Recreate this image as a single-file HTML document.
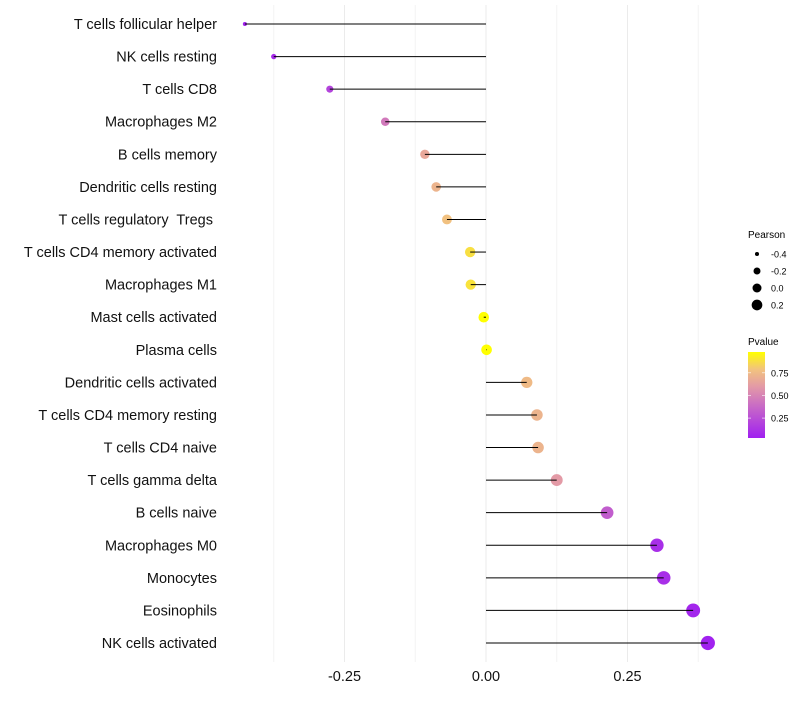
<!DOCTYPE html>
<html><head><meta charset="utf-8"><style>
body{margin:0;background:#fff;font-family:"Liberation Sans",sans-serif;}
text{white-space:pre;}
</style></head><body>
<svg id="c" width="800" height="700" xmlns="http://www.w3.org/2000/svg">
<defs><linearGradient id="pg" x1="0" y1="1" x2="0" y2="0">
<stop offset="0" stop-color="#A020F0"/><stop offset="0.35" stop-color="#C666C8"/><stop offset="0.6" stop-color="#E39AA6"/><stop offset="0.8" stop-color="#F2C37E"/><stop offset="1" stop-color="#FFFF00"/></linearGradient></defs>
<g id="grid"></g><g id="marks"></g><g id="labels"></g><g id="xaxis"></g>
<g font-size="10" fill="#000">
<text x="748" y="238">Pearson</text><g id="sizeleg"></g>
<text x="748" y="345">Pvalue</text>
<rect x="748" y="352" width="17" height="86" fill="url(#pg)"/>
<g id="colleg"></g>
</g>
</svg>
<script>
const categories=["T cells follicular helper","NK cells resting","T cells CD8","Macrophages M2","B cells memory","Dendritic cells resting","T cells regulatory  Tregs ","T cells CD4 memory activated","Macrophages M1","Mast cells activated","Plasma cells","Dendritic cells activated","T cells CD4 memory resting","T cells CD4 naive","T cells gamma delta","B cells naive","Macrophages M0","Monocytes","Eosinophils","NK cells activated"];
const pearson=[-0.426,-0.375,-0.276,-0.178,-0.108,-0.088,-0.069,-0.028,-0.027,-0.004,0.001,0.072,0.090,0.092,0.125,0.214,0.302,0.314,0.366,0.392];
const pvalue=[0.05,0.08,0.2,0.45,0.66,0.72,0.78,0.88,0.89,0.98,0.99,0.75,0.72,0.72,0.6,0.32,0.1,0.1,0.06,0.04];
const xTicks=[-0.25,0,0.25];
const xTickLabels=["-0.25","0.00","0.25"];
const sizeLegend=[-0.4,-0.2,0.0,0.2];
const colTicks=[0.25,0.5,0.75];
const NS="http://www.w3.org/2000/svg";
const xs=v=>486+v*566;
const ys=i=>24+i*(643-24)/(categories.length-1);
const rs=v=>Math.sqrt(Math.max(3,4+(v+0.43)/0.82*46));
const ps=p=>438-(p-0.03)/(0.95)*86;
const stops=[[0,[160,32,240]],[0.35,[198,102,200]],[0.6,[227,154,166]],[0.8,[242,195,126]],[1,[255,255,0]]];
function col(p){let t=Math.min(1,Math.max(0,(p-0.03)/0.95));for(let i=1;i<stops.length;i++){if(t<=stops[i][0]){const a=stops[i-1],b=stops[i],f=(t-a[0])/(b[0]-a[0]);return "rgb("+a[1].map((c,k)=>Math.round(c+(b[1][k]-c)*f)).join(",")+")";}}return "rgb(255,255,0)";}
function mk(t,a,p){const e=document.createElementNS(NS,t);for(const k in a)e.setAttribute(k,a[k]);p.appendChild(e);return e;}
const grid=document.getElementById('grid');
for(let v=-0.5;v<=0.5;v+=0.125){const x=xs(v);if(x<228||x>740)continue;const g=mk('line',{x1:x,x2:x,y1:5,y2:662,stroke:Math.abs((v*8)%2)<0.01?'#ebebeb':'#f4f4f4','stroke-width':1},grid);

}
const marks=document.getElementById('marks'),labels=document.getElementById('labels');
categories.forEach((c,i)=>{const y=ys(i);
const dot=mk('circle',{cx:xs(pearson[i]),cy:y,r:rs(pearson[i]),fill:col(pvalue[i])},marks);


const ln=mk('line',{x1:xs(0),x2:xs(pearson[i]),y1:y,y2:y,stroke:'#000','stroke-width':1},marks);


const t=mk('text',{x:217,y:y+5,'text-anchor':'end','font-size':14.5,fill:'#111'},labels);t.textContent=c;

});
const xa=document.getElementById('xaxis');
xTicks.forEach((v,i)=>{const t=mk('text',{x:xs(v),y:681,'text-anchor':'middle','font-size':14.5,fill:'#111'},xa);t.textContent=xTickLabels[i];

});
const sl=document.getElementById('sizeleg');
sizeLegend.forEach((v,i)=>{const y=254+i*17;
const c=mk('circle',{cx:757,cy:y,r:rs(v)*0.85,fill:'#000'},sl);


const t=mk('text',{x:771,y:y+3.5,'font-size':9},sl);t.textContent=v.toFixed(1);

});
const cl=document.getElementById('colleg');
colTicks.forEach(p=>{const y=ps(p);
mk('line',{x1:748,x2:751,y1:y,y2:y,stroke:'#fff','stroke-width':0.6},cl);mk('line',{x1:762,x2:765,y1:y,y2:y,stroke:'#fff','stroke-width':0.6},cl);
const t=mk('text',{x:771,y:y+3.5,'font-size':9},cl);t.textContent=p.toFixed(2);

});
</script>
</body></html>
